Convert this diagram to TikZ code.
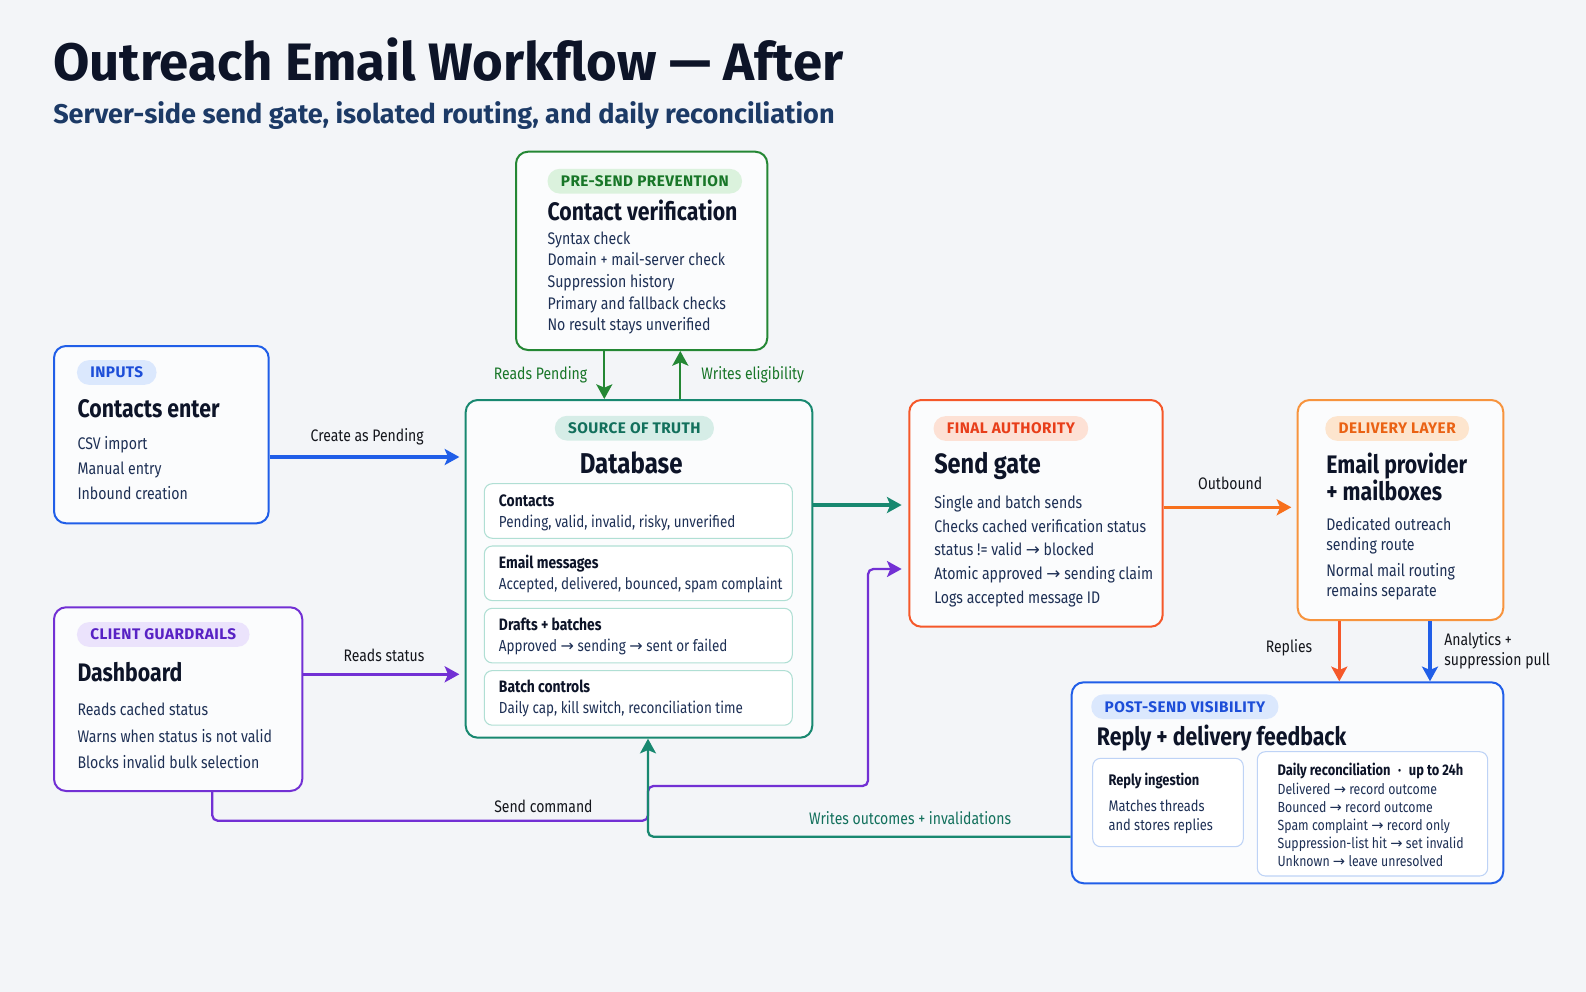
\documentclass[tikz,border=0pt]{standalone}
\usepackage{fontspec}
\setmainfont{Fira Sans}[FakeStretch=0.84]
\newfontfamily\headfont{Fira Sans}
\newfontfamily\pillfont{Fira Sans}[LetterSpace=3]
\newfontfamily\arrowfont{DejaVu Sans}
\usetikzlibrary{arrows.meta,calc,fit,positioning}
\definecolor{pagebg}{RGB}{243,245,248}
\definecolor{cardfill}{RGB}{251,252,253}
\definecolor{inkdark}{RGB}{13,20,40}
\definecolor{inkbody}{RGB}{30,48,85}
\definecolor{inksub}{RGB}{28,58,102}
\definecolor{inklabel}{RGB}{20,22,28}
\definecolor{inputblue}{RGB}{32,94,232}
\definecolor{inputsoft}{RGB}{219,232,253}
\definecolor{inputtext}{RGB}{29,78,216}
\definecolor{checkgreen}{RGB}{36,135,52}
\definecolor{checksoft}{RGB}{219,242,221}
\definecolor{checktext}{RGB}{24,118,40}
\definecolor{truthteal}{RGB}{24,136,112}
\definecolor{truthsoft}{RGB}{214,237,231}
\definecolor{truthtext}{RGB}{18,112,92}
\definecolor{truthline}{RGB}{176,223,212}
\definecolor{gatered}{RGB}{245,88,42}
\definecolor{gatesoft}{RGB}{253,225,213}
\definecolor{gatetext}{RGB}{232,62,26}
\definecolor{deliveryorange}{RGB}{247,148,62}
\definecolor{deliverysoft}{RGB}{253,229,206}
\definecolor{deliverytext}{RGB}{234,98,20}
\definecolor{outboundorange}{RGB}{247,112,28}
\definecolor{guardpurple}{RGB}{114,48,212}
\definecolor{guardsoft}{RGB}{235,227,252}
\definecolor{guardtext}{RGB}{88,34,196}
\definecolor{feedbackline}{RGB}{190,211,246}
\newcommand{\tto}{{\arrowfont →}}
\tikzset{
  card/.style={draw=#1,line width=1.5pt,rounded corners=9pt,fill=cardfill,inner sep=0pt},
  subcard/.style={draw=#1,line width=0.8pt,rounded corners=6pt,fill=white,inner sep=0pt},
  pill/.style={fill=#1,rounded corners=9pt,minimum height=18.5pt,inner xsep=10pt,inner ysep=0pt,
    font=\pillfont\bfseries\fontsize{11.5}{13}\selectfont},
  cardtitle/.style={anchor=base west,inner sep=0pt,text=inkdark,font=\bfseries\fontsize{19}{22}\selectfont},
  bodyline/.style={anchor=base west,inner sep=0pt,text=inkbody,font=\fontsize{12.6}{15}\selectfont},
  smallline/.style={bodyline,font=\fontsize{11}{13}\selectfont},
  sublabel/.style={anchor=base west,inner sep=0pt,text=inkdark,font=\bfseries\fontsize{11.5}{13}\selectfont},
  flowlabel/.style={inner sep=0pt,text=inklabel,font=\fontsize{12.5}{15}\selectfont},
  flow/.style={-{Stealth[length=11pt,width=12pt,inset=2.5pt]},line width=2.6pt,draw=#1},
  thinflow/.style={flow=#1,line width=1.7pt}
}
\begin{document}
\begin{tikzpicture}[x=0.75pt,y=-0.75pt]
  \fill[pagebg] (0,0) rectangle (1586,992);
  \node[anchor=base west,inner sep=0pt,text=inkdark,font=\headfont\bfseries\fontsize{39.5}{46}\selectfont] (title) at (53,80.7) {Outreach Email Workflow — After};
  \node[anchor=base west,inner sep=0pt,text=inksub,font=\headfont\bfseries\fontsize{20.3}{24}\selectfont] (subtitle) at (53,123.3) {Server-side send gate, isolated routing, and daily reconciliation};

  \node[card=inputblue,fit={(54,346) (268.7,523.3)}] (inputs) {};
  \node[pill=inputsoft,text=inputtext,anchor=west] (inputstag) at (76.7,372.5) {INPUTS};
  \node[cardtitle] (inputstitle) at (77.3,417.3) {Contacts enter};
  \foreach \txt [count=\i] in {CSV import,Manual entry,Inbound creation}
    \node[bodyline] (inputsline\i) at (77.3,{449.3+25*(\i-1)}) {\txt};

  \node[card=checkgreen,fit={(516,151.7) (767.3,350)}] (verify) {};
  \node[pill=checksoft,text=checktext,anchor=west] (verifytag) at (547.3,181.2) {PRE-SEND PREVENTION};
  \node[cardtitle] (verifytitle) at (547.3,220) {Contact verification};
  \foreach \txt [count=\i] in {Syntax check,Domain + mail-server check,Suppression history,Primary and fallback checks,No result stays unverified}
    \node[bodyline] (verifyline\i) at (547.3,{244.3+21.6*(\i-1)}) {\txt};

  \node[card=truthteal,fit={(465.7,400) (812.3,737.7)}] (db) {};
  \node[pill=truthsoft,text=truthtext] (dbtag) at (634.4,428.2) {SOURCE OF TRUTH};
  \node[cardtitle,anchor=base,font=\bfseries\fontsize{21.5}{25}\selectfont] (dbtitle) at (631.2,473.3) {Database};
  \foreach \head/\detail [count=\i] in {Contacts/{Pending, valid, invalid, risky, unverified},Email messages/{Accepted, delivered, bounced, spam complaint},Drafts + batches/{Approved \tto\ sending \tto\ sent or failed},Batch controls/{Daily cap, kill switch, reconciliation time}} {
    \node[subcard=truthline,fit={(484.3,{483.7+62.3*(\i-1)}) (792.3,{538.3+62.3*(\i-1)})}] (dbpart\i) {};
    \node[sublabel,font=\bfseries\fontsize{12.4}{14}\selectfont] (dbhead\i) at (498.7,{506.7+62*(\i-1)}) {\head};
    \node[bodyline,font=\fontsize{12}{14}\selectfont] (dbdetail\i) at (498.7,{527.3+62*(\i-1)}) {\detail};
  }

  \node[card=gatered,fit={(909.3,400) (1162.7,626.7)}] (gate) {};
  \node[pill=gatesoft,text=gatetext,anchor=west] (gatetag) at (933.3,428.5) {FINAL AUTHORITY};
  \node[cardtitle,font=\bfseries\fontsize{21}{24}\selectfont] (gatetitle) at (934,473.3) {Send gate};
  \foreach \txt [count=\i] in {Single and batch sends,Checks cached verification status,status != valid \tto\ blocked,Atomic approved \tto\ sending claim,Logs accepted message ID}
    \node[bodyline] (gateline\i) at (934,{508.3+23.75*(\i-1)}) {\txt};

  \node[card=deliveryorange,fit={(1297.7,400) (1503.3,620)}] (delivery) {};
  \node[pill=deliverysoft,text=deliverytext,anchor=west] (deliverytag) at (1325,428.5) {DELIVERY LAYER};
  \node[cardtitle] (deliverytitle) at (1326,473.3) {Email provider};
  \node[cardtitle] (deliverytitle2) at (1326,500.7) {+ mailboxes};
  \foreach \txt/\yy [count=\i] in {Dedicated outreach/530,sending route/550.7,Normal mail routing/576.7,remains separate/596.7}
    \node[bodyline] (deliveryline\i) at (1326,\yy) {\txt};

  \node[card=guardpurple,fit={(54,607.3) (302.3,791)}] (dash) {};
  \node[pill=guardsoft,text=guardtext,anchor=west] (dashtag) at (76.7,634.5) {CLIENT GUARDRAILS};
  \node[cardtitle] (dashtitle) at (77.3,681.7) {Dashboard};
  \foreach \txt [count=\i] in {Reads cached status,Warns when status is not valid,Blocks invalid bulk selection}
    \node[bodyline] (dashline\i) at (77.3,{715.7+26.3*(\i-1)}) {\txt};

  \node[card=inputblue,fit={(1071.7,682.3) (1503.3,883.3)}] (feedback) {};
  \node[pill=inputsoft,text=inputtext,anchor=west] (feedbacktag) at (1091,706.7) {POST-SEND VISIBILITY};
  \node[cardtitle] (feedbacktitle) at (1096.7,745) {Reply + delivery feedback};
  \node[subcard=feedbackline,fit={(1092.7,758.3) (1243.3,846.7)}] (ingest) {};
  \node[sublabel] (ingesthead) at (1108.3,785) {Reply ingestion};
  \node[bodyline,font=\fontsize{11.5}{14}\selectfont] (ingestline1) at (1108.3,811.7) {Matches threads};
  \node[bodyline,font=\fontsize{11.5}{14}\selectfont] (ingestline2) at (1108.3,830.7) {and stores replies};
  \node[subcard=feedbackline,fit={(1257.3,751.7) (1487.7,876)}] (recon) {};
  \node[sublabel] (reconhead) at (1277.3,775) {Daily reconciliation\enspace·\enspace up to 24h};
  \foreach \txt [count=\i] in {Delivered \tto\ record outcome,Bounced \tto\ record outcome,Spam complaint \tto\ record only,Suppression-list hit \tto\ set invalid,Unknown \tto\ leave unresolved}
    \node[smallline] (reconline\i) at (1277.3,{794+18*(\i-1)}) {\txt};

  \coordinate (rowpending) at (0,457);
  \coordinate (rowstatus) at (0,674.3);
  \coordinate (rowgate) at (0,505);
  \coordinate (rowsend) at (0,569);
  \coordinate (rowout) at (0,507.3);
  \coordinate (rowoutcome) at (0,836.7);
  \coordinate (colread) at (604.3,0);
  \coordinate (colwrite) at (680.3,0);
  \coordinate (colcmd) at (212.3,0);
  \coordinate (colback) at (648,0);
  \coordinate (colreply) at (1339.3,0);
  \coordinate (colpull) at (1430,0);
  \coordinate (cmdlow) at (648,820.7);
  \coordinate (cmdhigh) at (868,786);

  \draw[flow=inputblue,shorten >=4pt] (inputs.east |- rowpending) -- (db.west |- rowpending)
    node[flowlabel,midway,anchor=base,yshift=12pt] {Create as Pending};
  \draw[flow=guardpurple,shorten >=4pt] (dash.east |- rowstatus) -- (db.west |- rowstatus)
    node[flowlabel,midway,anchor=base,yshift=9.5pt] {Reads status};
  \draw[thinflow=checkgreen] (verify.south -| colread) -- (db.north -| colread)
    node[flowlabel,text=checktext,midway,left=12pt] {Reads Pending};
  \draw[thinflow=checkgreen] (db.north -| colwrite) -- (verify.south -| colwrite)
    node[flowlabel,text=checktext,midway,right=15pt] {Writes eligibility};
  \draw[flow=truthteal,shorten >=5pt] (db.east |- rowgate) -- (gate.west |- rowgate);
  \draw[thinflow=guardpurple,rounded corners=4pt,shorten >=5pt] (dash.south -| colcmd) |- (cmdlow)
    node[flowlabel,pos=0.88,anchor=base,yshift=6.5pt] {Send command}
    |- (cmdhigh) |- (gate.west |- rowsend);
  \draw[thinflow=truthteal,rounded corners=4pt] (feedback.west |- rowoutcome) -| (db.south -| colback)
    node[flowlabel,text=truthtext,pos=0.19,anchor=base,yshift=9.5pt] {Writes outcomes + invalidations};
  \draw[flow=outboundorange,shorten >=4pt] (gate.east |- rowout) -- (delivery.west |- rowout)
    node[flowlabel,midway,anchor=base,yshift=13pt] {Outbound};
  \draw[flow=gatered] (delivery.south -| colreply) -- (feedback.north -| colreply)
    node[flowlabel,pos=0.45,left=19pt] {Replies};
  \draw[flow=inputblue] (delivery.south -| colpull) -- (feedback.north -| colpull)
    node[flowlabel,midway,right=9.5pt,align=left] {Analytics +\\suppression pull};
\end{tikzpicture}
\end{document}
